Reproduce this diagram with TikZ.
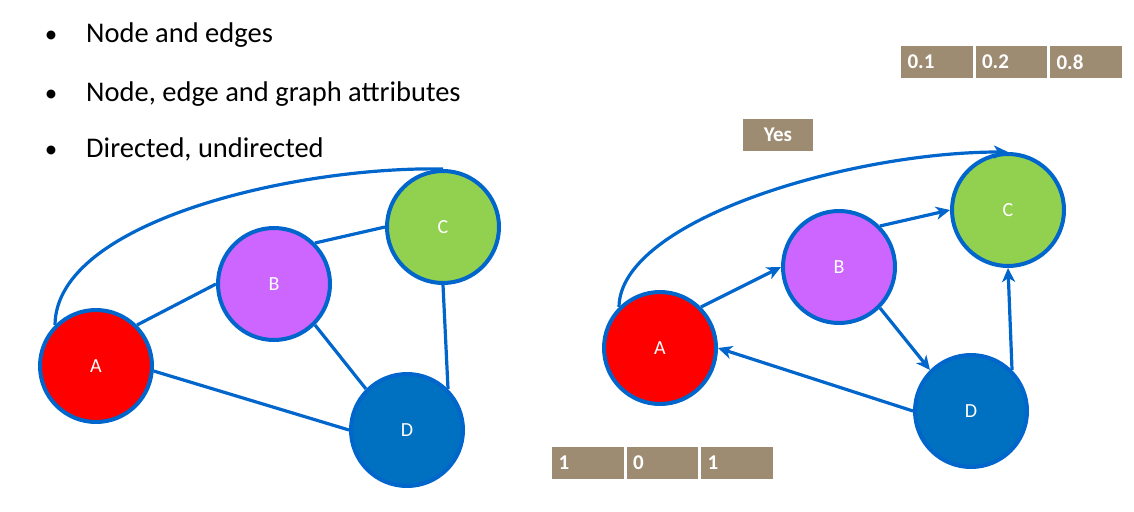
\documentclass[tikz,border=0pt]{standalone}
\usepackage{fontspec}
\setmainfont{Carlito}
\usetikzlibrary{arrows.meta,positioning}
\definecolor{edgeblue}{RGB}{0,102,204}
\definecolor{nodeA}{RGB}{255,0,0}
\definecolor{nodeB}{RGB}{204,102,255}
\definecolor{nodeC}{RGB}{146,208,80}
\definecolor{nodeD}{RGB}{0,112,192}
\definecolor{cellbrown}{RGB}{157,139,114}
\begin{document}
\begin{tikzpicture}[x=1pt,y=-1pt,
  vertex/.style={circle,draw=edgeblue,line width=4pt,minimum size=112pt,inner sep=0pt,
    text=white,font=\fontsize{20}{24}\selectfont},
  link/.style={draw=edgeblue,line width=3.2pt},
  arc/.style={link,-{Stealth[length=14pt,width=13pt,inset=4pt]}},
  tag/.style={fill=cellbrown,draw=white,line width=1.5pt,minimum width=73pt,minimum height=34pt,
    text=white,font=\bfseries\fontsize{21}{24}\selectfont},
  cell/.style={tag,text width=59pt,inner xsep=7pt,align=left},
  bullet/.style={anchor=base west,inner xsep=0pt,font=\fontsize{28.5}{34}\selectfont}]
\useasboundingbox (0,0) rectangle (1134,511);
% bullets
\foreach \y/\t in {43/Node and edges,101/{Node, edge and graph attributes},157/{Directed, undirected}}{
  \node[bullet] at (86,\y) {\t};
  \node[anchor=base,font=\fontsize{25}{30}\selectfont] at (51,\y) {•};
}
% undirected graph
\node[vertex,fill=nodeA] (lA) at (96,366) {A};
\node[vertex,fill=nodeB] (lB) at (274,284) {B};
\node[vertex,fill=nodeC] (lC) at (443,227) {C};
\node[vertex,fill=nodeD] (lD) at (407,430) {D};
\draw[link] (lA.45) -- (lB.west);
\draw[link] (lB.45) -- (lC.west);
\draw[link] (lB.-45) -- (lD.135);
\draw[link] (lC.south) -- (lD.45);
\draw[link] (lA.-5) -- (lD.west);
\draw[link] (lA.135) .. controls (56,220) and (300,166) .. (lC.north);
% directed graph
\node[vertex,fill=nodeA] (rA) at (660,348) {A};
\node[vertex,fill=nodeB] (rB) at (839,267) {B};
\node[vertex,fill=nodeC] (rC) at (1008,210) {C};
\node[vertex,fill=nodeD] (rD) at (971,411) {D};
\draw[arc] (rA.45) -- (rB.west);
\draw[arc] (rB.45) -- (rC.west);
\draw[arc] (rB.-45) -- (rD.135);
\draw[arc] (rD.45) -- (rC.south);
\draw[arc] (rD.west) -- (rA.east);
\draw[arc] (rA.135) .. controls (620,220) and (850,152) .. (rC.north);
% attribute boxes
\node[cell] (w1) at (937,62) {0.1};
\node[cell,right=0pt of w1] (w2) {0.2};
\node[cell,right=0pt of w2] (w3) {0.8};
\node[tag,minimum width=72pt] (yes) at (778,135) {Yes};
\node[cell] (v1) at (588,463) {1};
\node[cell,right=0pt of v1] (v2) {0};
\node[cell,right=0pt of v2] (v3) {1};
\end{tikzpicture}
\end{document}
